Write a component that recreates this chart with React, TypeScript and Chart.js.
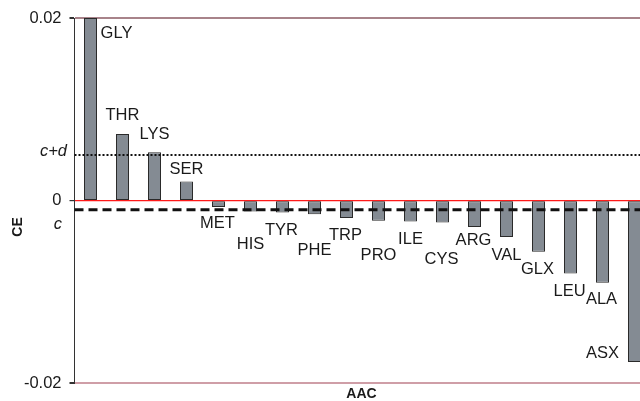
import React, { useEffect, useRef } from "react";
import { Chart, registerables } from "chart.js";

Chart.register(...registerables);

// Amino acid categories and their CE values
const categories = [
  "GLY", "THR", "LYS", "SER", "MET", "HIS", "TYR", "PHE", "TRP",
  "PRO", "ILE", "CYS", "ARG", "VAL", "GLX", "LEU", "ALA", "ASX",
];
const ceValues = [
  0.02, 0.0073, 0.0053, 0.0021, -0.0007, -0.0012, -0.0013, -0.0015, -0.0019,
  -0.0022, -0.0023, -0.0024, -0.0029, -0.004, -0.0056, -0.008, -0.009, -0.0177,
];
// Reference levels
const cValue = -0.001;
const cPlusD = 0.005;
const yTicks = [-0.02, 0, 0.02];

// Label placement relative to the end of each bar (px)
const labelDx = [26, 0, 0, 0, -1, 0, -1, 0, -1, 0, 0, -1, -1, 0, -1, -1, -1, -32];
const labelDy = [15.5, -18, -18, -11.5, 17, 33, 18, 36, 17.5, 35, 18, 37, 13, 18, 18, 18, 16.5, -9];

const FONT = "Liberation Sans, Arial, Helvetica, sans-serif";

const overlayPlugin = {
  id: "overlay",
  afterDatasetsDraw(chart: any) {
    const { ctx, chartArea, scales } = chart;
    const y = scales.y;
    ctx.save();

    // c+d dotted line
    const yCd = y.getPixelForValue(cPlusD);
    ctx.strokeStyle = "#111";
    ctx.lineWidth = 2;
    ctx.setLineDash([2, 2]);
    ctx.beginPath();
    ctx.moveTo(chartArea.left, yCd);
    ctx.lineTo(chartArea.right, yCd);
    ctx.stroke();

    // c dashed line
    const yC = y.getPixelForValue(cValue);
    ctx.lineWidth = 3;
    ctx.setLineDash([9, 5]);
    ctx.beginPath();
    ctx.moveTo(chartArea.left, yC);
    ctx.lineTo(chartArea.right, yC);
    ctx.stroke();
    ctx.setLineDash([]);

    // bar labels
    const meta = chart.getDatasetMeta(0);
    ctx.fillStyle = "#1a1a1a";
    ctx.font = `16.5px ${FONT}`;
    ctx.textAlign = "center";
    ctx.textBaseline = "middle";
    meta.data.forEach((el: any, i: number) => {
      ctx.fillText(categories[i], el.x + labelDx[i], el.y + labelDy[i]);
    });

    // italic labels for the reference levels
    ctx.font = `italic 16.5px ${FONT}`;
    ctx.textAlign = "right";
    ctx.fillText("c+d", 67, yCd - 4);
    ctx.fillText("c", 62, yC + 15);

    // axis titles
    ctx.font = `bold 14px ${FONT}`;
    ctx.textAlign = "center";
    ctx.fillText("AAC", (chartArea.left + chartArea.right) / 2 - 1, 394);
    ctx.translate(18, 227);
    ctx.rotate(-Math.PI / 2);
    ctx.fillText("CE", 0, 0);
    ctx.restore();
  },
};

export default function App() {
  const canvasRef = useRef<HTMLCanvasElement | null>(null);

  useEffect(() => {
    if (!canvasRef.current) return;
    const chart = new Chart(canvasRef.current, {
      type: "bar",
      data: {
        labels: categories,
        datasets: [
          {
            data: ceValues,
            backgroundColor: "#848b93",
            borderColor: "#2a2a2a",
            borderWidth: 1,
            borderSkipped: false,
            barPercentage: 13 / 32,
            categoryPercentage: 1,
          },
        ],
      },
      options: {
        responsive: false,
        animation: false,
        layout: { padding: { top: 18, right: 0.5, left: 0, bottom: 0 } },
        plugins: { legend: { display: false }, tooltip: { enabled: false } },
        scales: {
          x: {
            grid: { display: false },
            border: { display: false },
            ticks: { display: false },
            afterFit(scale: any) {
              scale.height = 16;
            },
          },
          y: {
            min: -0.02,
            max: 0.02,
            afterBuildTicks(scale: any) {
              scale.ticks = yTicks.map((v) => ({ value: v }));
            },
            afterFit(scale: any) {
              scale.width = 74.5;
            },
            ticks: {
              padding: 8,
              color: "#1a1a1a",
              font: { family: FONT, size: 16.5 },
              callback: (v: any) => (Number(v) === 0 ? "0" : Number(v).toFixed(2)),
            },
            grid: {
              tickLength: 5,
              tickColor: "#333",
              color: (c: any) =>
                c.tick && c.tick.value > 0 ? "#a8838a" : c.tick && c.tick.value < 0 ? "#cf9ea7" : "#ff1a1a",
              lineWidth: (c: any) => (c.tick && c.tick.value === 0 ? 1.2 : 2),
            },
            border: { display: true, color: "#333", width: 1 },
          },
        },
      },
      plugins: [overlayPlugin],
    });
    return () => chart.destroy();
  }, []);

  return (
    <div
      style={{
        position: "fixed",
        left: 0,
        top: 0,
        width: 640,
        height: 401,
        overflow: "hidden",
        background: "#fff",
      }}
    >
      <canvas ref={canvasRef} width={651} height={401} style={{ display: "block" }} />
    </div>
  );
}
